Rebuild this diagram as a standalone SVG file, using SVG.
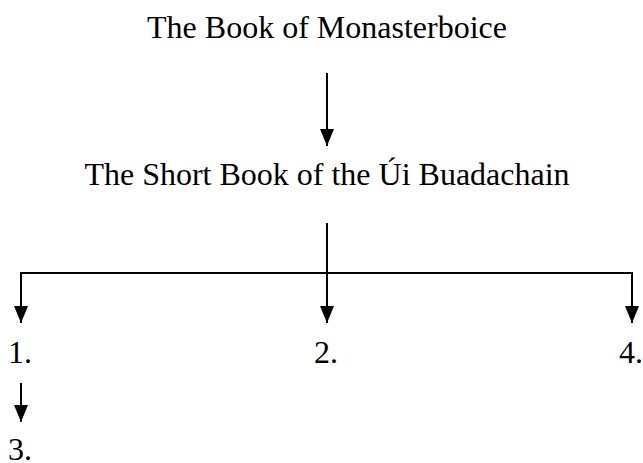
<svg xmlns="http://www.w3.org/2000/svg" width="643" height="463" viewBox="0 0 643 463">
  <style>
    .label { font-family: "Liberation Serif", "Times New Roman", serif; font-size: 32px; fill: #000; }
    .edge { stroke: #000; stroke-width: 2; fill: none; }
  </style>
  <defs>
    <marker id="head" markerUnits="userSpaceOnUse" markerWidth="17" markerHeight="14" refX="17" refY="7" orient="auto">
      <path d="M0,0 L17,7 L0,14 z" fill="#000"/>
    </marker>
  </defs>
  <rect width="643" height="463" fill="#fff"/>

  <g id="connectors">
    <line class="edge" x1="327" y1="73" x2="327" y2="146" marker-end="url(#head)"/>
    <line class="edge" x1="327" y1="223" x2="327" y2="323" marker-end="url(#head)"/>
    <polyline class="edge" points="21,323 21,273 632,273 632,323"/>
    <line class="edge" x1="21" y1="273" x2="21" y2="323" marker-end="url(#head)"/>
    <line class="edge" x1="632" y1="273" x2="632" y2="323" marker-end="url(#head)"/>
    <line class="edge" x1="21" y1="383" x2="21" y2="422" marker-end="url(#head)"/>
  </g>

  <g id="book-monasterboice">
    <text class="label" x="327" y="38" text-anchor="middle">The Book of Monasterboice</text>
  </g>
  <g id="short-book">
    <text class="label" x="327" y="185" text-anchor="middle">The Short Book of the Úi Buadachain</text>
  </g>
  <g id="item-1">
    <text class="label" x="8" y="363">1.</text>
  </g>
  <g id="item-2">
    <text class="label" x="314" y="363">2.</text>
  </g>
  <g id="item-4">
    <text class="label" x="619" y="363">4.</text>
  </g>
  <g id="item-3">
    <text class="label" x="8" y="460">3.</text>
  </g>
</svg>
